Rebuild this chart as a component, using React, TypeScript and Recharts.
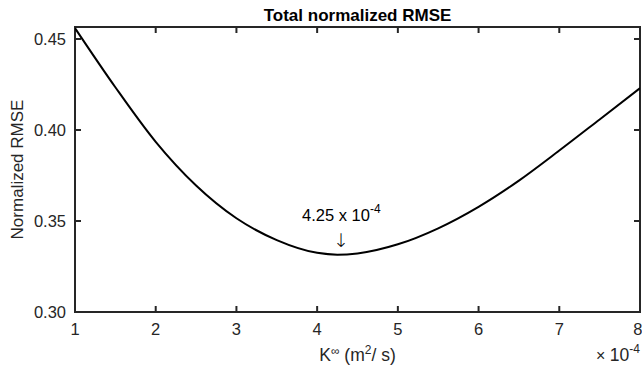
import React from "react";
import { LineChart, Line, XAxis, YAxis, ReferenceArea, ReferenceLine } from "recharts";

// diffusivity samples (units of 1e-4 m^2/s) and the normalized RMSE at each
const kValues = [1, 1.5, 2, 2.5, 3, 3.5, 4, 4.25, 4.5, 5, 5.5, 6, 6.5, 7, 7.5, 8];
const rmseValues = [
  0.456, 0.4235, 0.3935, 0.3695, 0.3515, 0.3395, 0.3325, 0.3315, 0.3322, 0.3372, 0.346, 0.3578,
  0.3722, 0.3887, 0.4058, 0.423,
];
const xTicks = [1, 2, 3, 4, 5, 6, 7, 8];
const yTicks = [0.3, 0.35, 0.4, 0.45];
const xDomain = [1, 8];
const yDomain = [0.3, 0.4566];
const bestK = 4.25;

const data = kValues.map((k, i) => ({ k, rmse: rmseValues[i] }));

const FONT = "Arial, 'Liberation Sans', Helvetica, sans-serif";
const INK = "#262626";
const TICK_LEN = 6;

// inward tick marks at both ends of a full-height / full-width reference line
const XTickMarks = (props: any) => {
  const { x1, y1, x2, y2 } = props;
  const top = Math.min(y1, y2);
  const bottom = Math.max(y1, y2);
  return (
    <g stroke={INK} strokeWidth={2}>
      <line x1={x1} x2={x2} y1={bottom} y2={bottom - TICK_LEN} />
      <line x1={x1} x2={x2} y1={top} y2={top + TICK_LEN} />
    </g>
  );
};

const YTickMarks = (props: any) => {
  const { x1, y1, x2, y2 } = props;
  const left = Math.min(x1, x2);
  const right = Math.max(x1, x2);
  return (
    <g stroke={INK} strokeWidth={2}>
      <line x1={left} x2={left + TICK_LEN} y1={y1} y2={y2} />
      <line x1={right} x2={right - TICK_LEN} y1={y1} y2={y2} />
    </g>
  );
};

const TitleLabel = (props: any) => {
  const { viewBox } = props;
  const cx = viewBox.x + viewBox.width / 2;
  return (
    <text x={cx} y={21} textAnchor="middle" fontFamily={FONT} fontSize={17} fontWeight="bold" fill="#000">
      Total normalized RMSE
    </text>
  );
};

const XLabel = (props: any) => {
  const { viewBox } = props;
  const cx = viewBox.x + viewBox.width / 2;
  const right = viewBox.x + viewBox.width;
  const base = viewBox.y + 49;
  return (
    <g fontFamily={FONT} fill={INK}>
      <text x={cx} y={base} textAnchor="middle" fontSize={17.5}>
        K<tspan fontSize={12} dy={-6}>∞</tspan>
        <tspan dy={6}> (m</tspan>
        <tspan fontSize={12} dy={-7}>2</tspan>
        <tspan dy={7}>/ s)</tspan>
      </text>
      <text x={right} y={base} textAnchor="end" fontSize={17.5}>
        <tspan fontSize={16}>× </tspan>10<tspan fontSize={12} dy={-8}>-4</tspan>
      </text>
    </g>
  );
};

const YLabel = (props: any) => {
  const { viewBox } = props;
  const cy = viewBox.y + viewBox.height / 2;
  return (
    <text
      x={23}
      y={cy}
      textAnchor="middle"
      transform={`rotate(-90, 23, ${cy})`}
      fontFamily={FONT}
      fontSize={17}
      fill={INK}
    >
      Normalized RMSE
    </text>
  );
};

// annotation above the minimum of the curve
const MinLabel = (props: any) => {
  const { x, y, index } = props;
  if (kValues[index] !== bestK) return null;
  const cx = x + 4;
  return (
    <g>
      <text x={cx} y={y - 34} textAnchor="middle" fontFamily={FONT} fontSize={16.5} fill="#000">
        4.25 x 10<tspan fontSize={12} dy={-8}>-4</tspan>
      </text>
      <text
        x={cx}
        y={y - 8}
        textAnchor="middle"
        fontFamily="'DejaVu Sans', sans-serif"
        fontSize={19}
        fontWeight={200}
        fill="#000"
        stroke="none"
      >
        ↓
      </text>
    </g>
  );
};

const tickStyle = { fill: INK, fontSize: 16.5, fontFamily: FONT };

export default function App() {
  return (
    <div style={{ position: "absolute", left: 0, top: 0 }}>
      <LineChart width={642} height={368} data={data} margin={{ top: 26, right: 2, bottom: 0, left: 0 }}>
        <XAxis
          dataKey="k"
          type="number"
          domain={xDomain}
          ticks={xTicks}
          allowDataOverflow
          height={56}
          axisLine={false}
          tickLine={false}
          tickSize={0}
          tickMargin={11}
          tick={tickStyle}
          label={<XLabel />}
        />
        <XAxis
          xAxisId="top"
          dataKey="k"
          type="number"
          orientation="top"
          domain={xDomain}
          ticks={xTicks}
          allowDataOverflow
          height={1}
          axisLine={false}
          tickLine={false}
          tick={false}
          label={<TitleLabel />}
        />
        <YAxis
          type="number"
          domain={yDomain}
          ticks={yTicks}
          allowDataOverflow
          width={75}
          axisLine={false}
          tickLine={false}
          tickSize={0}
          tickMargin={9}
          tick={tickStyle}
          tickFormatter={(v: number) => v.toFixed(2)}
          label={<YLabel />}
        />
        <ReferenceArea
          x1={xDomain[0]}
          x2={xDomain[1]}
          y1={yDomain[0]}
          y2={yDomain[1]}
          stroke={INK}
          strokeWidth={2}
          fill="none"
          fillOpacity={0}
          ifOverflow="visible"
        />
        {xTicks.map((t) => (
          <ReferenceLine key={`xt${t}`} x={t} ifOverflow="visible" shape={<XTickMarks />} />
        ))}
        {yTicks.map((t) => (
          <ReferenceLine key={`yt${t}`} y={t} ifOverflow="visible" shape={<YTickMarks />} />
        ))}
        <Line
          type="monotone"
          dataKey="rmse"
          stroke="#000"
          strokeWidth={2}
          dot={false}
          label={<MinLabel />}
          isAnimationActive={false}
        />
        {/* same curve bound to the top axis so it gets drawn (it carries the title) */}
        <Line
          xAxisId="top"
          type="monotone"
          dataKey="rmse"
          stroke="none"
          dot={false}
          activeDot={false}
          legendType="none"
          isAnimationActive={false}
        />
      </LineChart>
    </div>
  );
}
